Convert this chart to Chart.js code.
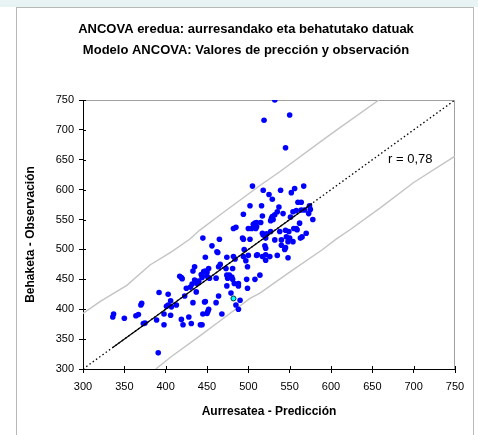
<!DOCTYPE html>
<html>
<head>
<meta charset="utf-8">
<title>ANCOVA eredua</title>
<script src="https://cdn.jsdelivr.net/npm/chart.js@4.4.1/dist/chart.umd.min.js"></script>
<style>
  html, body { margin: 0; padding: 0; background: #fff; }
  canvas { display: block; }
</style>
</head>
<body>
<canvas id="ancovaChart" width="478" height="435"></canvas>
<script>
// Predicted (x) vs observed (y) values
const predX = [532, 519, 550, 545, 505, 518, 525, 529, 539, 552, 556, 567, 560, 564, 502, 516, 537, 535, 532, 528,
  527, 530, 542, 554, 558, 564, 575, 573, 578, 494, 517, 510, 515, 506, 500, 504, 509, 482, 485, 517,
  522, 527, 538, 545, 549, 555, 559, 570, 521, 532, 540, 546, 550, 554, 563, 540, 545, 548, 445, 465,
  494, 502, 456, 462, 495, 520, 521, 474, 482, 500, 510, 517, 526, 535, 544, 548, 574, 568, 551, 562,
  558, 565, 508, 510, 518, 493, 529, 463, 484, 494, 497, 499, 511, 521, 521, 448, 452, 450, 446, 444,
  450, 453, 461, 464, 466, 473, 474, 477, 480, 481, 475, 481, 474, 483, 488, 488, 498, 508, 514, 499,
  479, 490, 485, 488, 448, 461, 464, 452, 451, 445, 468, 444, 391, 337, 336, 350, 364, 367, 370, 371,
  373, 375, 389, 392, 398, 398, 403, 406, 407, 403, 413, 419, 423, 421, 428, 431, 433, 437, 442, 447,
  450, 417, 419, 420, 425, 430, 435, 433, 435, 432, 438, 440, 444, 443, 448, 406, 401];
const obsY = [750, 716, 725, 670, 606, 599, 592, 584, 599, 595, 602, 606, 579, 579, 573, 573, 571, 563, 558, 552,
  548, 550, 560, 563, 565, 566, 567, 560, 550, 559, 556, 545, 545, 542, 535, 535, 535, 535, 537, 527,
  526, 530, 530, 532, 530, 535, 533, 527, 519, 516, 516, 521, 519, 513, 519, 507, 503, 513, 519, 517,
  517, 517, 506, 496, 500, 506, 502, 487, 488, 490, 490, 488, 488, 490, 500, 486, 573, 566, 554, 544,
  535, 521, 544, 538, 524, 519, 555, 495, 484, 488, 481, 471, 491, 491, 482, 487, 468, 462, 463, 457,
  455, 452, 452, 471, 475, 468, 457, 457, 454, 450, 452, 468, 439, 443, 443, 439, 450, 450, 457, 435,
  427, 415, 407, 400, 413, 411, 422, 400, 396, 392, 392, 374, 327, 392, 387, 385, 389, 391, 407, 410,
  376, 377, 382, 428, 392, 374, 425, 390, 404, 407, 407, 383, 422, 374, 387, 376, 411, 429, 374, 412,
  393, 455, 453, 451, 435, 437, 449, 464, 471, 442, 443, 447, 453, 458, 464, 414, 405];

// Highlighted observation
const markX = [482];
const markY = [418];

// y = x reference line, fitted segment over the data range
const diagX = [300, 750];
const fitX = [336, 577];

// Prediction band edges
const upperX = [300, 321, 353, 381, 407, 429, 441, 466, 514, 538, 587, 607, 658];
const upperY = [393, 413, 440, 474, 496, 517, 532, 558, 607, 630, 680, 700, 750];
const lowerX = [388, 407, 441, 470, 502, 514, 550, 589, 607, 623, 660, 700, 750];
const lowerY = [300, 321, 355, 385, 418, 427, 462, 499, 518, 533, 570, 612, 656];

// Axis range and ticks
const axisMin = 300;
const axisMax = 750;
const axisStep = 50;

const titleLines = [
  'ANCOVA eredua: aurresandako eta behatutako datuak',
  'Modelo ANCOVA: Valores de prección y observación'
];
const xTitle = 'Aurresatea - Predicción';
const yTitle = 'Behaketa - Observación';
const rLabel = 'r = 0,78';
const rLabelAt = [669, 651];

const FONT = '"Liberation Sans", Arial, sans-serif';

function toPoints(xs, ys) {
  return xs.map((x, i) => ({ x: x, y: ys[i] }));
}

// Frame, titles, plot border, inner tick halves and the r label
const decorations = {
  id: 'decorations',
  beforeDraw(chart) {
    const { ctx, width, height } = chart;
    ctx.save();
    ctx.fillStyle = '#ffffff';
    ctx.fillRect(0, 0, width, height);
    ctx.fillStyle = '#e8f3f3';
    ctx.fillRect(0, 0, width, 7);
    ctx.strokeStyle = '#b8b8b8';
    ctx.lineWidth = 1;
    ctx.strokeRect(16.5, 7.5, 457, height + 5);

    ctx.fillStyle = '#000';
    ctx.font = 'bold 13px ' + FONT;
    ctx.textAlign = 'center';
    ctx.textBaseline = 'middle';
    ctx.fillText(titleLines[0], 246, 29);
    ctx.fillText(titleLines[1], 246, 50);
    ctx.restore();
  },
  beforeDatasetsDraw(chart) {
    const { ctx, chartArea } = chart;
    ctx.save();
    ctx.strokeStyle = '#a0a0a0';
    ctx.lineWidth = 1;
    ctx.beginPath();
    ctx.moveTo(chartArea.left, chartArea.top + 0.5);
    ctx.lineTo(chartArea.right - 0.5, chartArea.top + 0.5);
    ctx.lineTo(chartArea.right - 0.5, chartArea.bottom);
    ctx.stroke();

    // Excel style ticks cross the axis: draw the inner half
    const xs = chart.scales.x;
    const ys = chart.scales.y;
    ctx.strokeStyle = '#000';
    ctx.beginPath();
    for (let v = axisMin; v <= axisMax; v += axisStep) {
      const px = Math.round(xs.getPixelForValue(v)) + 0.5;
      ctx.moveTo(px, chartArea.bottom);
      ctx.lineTo(px, chartArea.bottom - 3);
      const py = Math.round(ys.getPixelForValue(v)) + 0.5;
      ctx.moveTo(chartArea.left, py);
      ctx.lineTo(chartArea.left + 3, py);
    }
    ctx.stroke();
    ctx.restore();
  },
  afterDraw(chart) {
    const { ctx } = chart;
    ctx.save();
    ctx.fillStyle = '#000';
    ctx.font = '13px ' + FONT;
    ctx.textAlign = 'left';
    ctx.textBaseline = 'middle';
    ctx.fillText(rLabel, chart.scales.x.getPixelForValue(rLabelAt[0]), chart.scales.y.getPixelForValue(rLabelAt[1]));
    ctx.restore();
  }
};

function axisOptions(title, isX) {
  return {
    type: 'linear',
    min: axisMin,
    max: axisMax,
    ticks: {
      stepSize: axisStep,
      color: '#000',
      font: { family: FONT, size: 11 },
      padding: isX ? 7 : 5
    },
    grid: {
      drawOnChartArea: false,
      tickLength: 4,
      color: '#000'
    },
    border: { color: '#000', width: 1 },
    title: {
      display: true,
      text: title,
      color: '#000',
      font: { family: FONT, size: 12, weight: 'bold' },
      padding: isX ? { top: 0, bottom: 16 } : { top: 23, bottom: 0 }
    },
    afterFit: (scale) => {
      if (isX) {
        scale.height = 66;
      } else {
        scale.width = 83;
      }
    }
  };
}

const ctx = document.getElementById('ancovaChart');
new Chart(ctx, {
  type: 'scatter',
  data: {
    datasets: [
      {
        label: 'fit',
        data: toPoints(fitX, fitX),
        showLine: true,
        borderColor: '#000',
        borderWidth: 1.2,
        pointRadius: 0
      },
      {
        label: 'y = x',
        data: toPoints(diagX, diagX),
        showLine: true,
        borderColor: '#000',
        borderWidth: 1.3,
        borderDash: [1.5, 2.5],
        pointRadius: 0
      },
      {
        label: 'mark',
        data: toPoints(markX, markY),
        backgroundColor: '#00ffff',
        borderColor: '#003333',
        borderWidth: 1,
        pointRadius: 2.5
      },
      {
        label: 'obs',
        data: toPoints(predX, obsY),
        backgroundColor: '#0000ff',
        borderColor: '#0000ff',
        borderWidth: 0,
        pointRadius: 2.8
      },
      {
        label: 'upper',
        data: toPoints(upperX, upperY),
        showLine: true,
        borderColor: '#c4c4c4',
        borderWidth: 1.4,
        pointRadius: 0
      },
      {
        label: 'lower',
        data: toPoints(lowerX, lowerY),
        showLine: true,
        borderColor: '#c4c4c4',
        borderWidth: 1.4,
        pointRadius: 0
      }
    ]
  },
  options: {
    responsive: false,
    animation: false,
    devicePixelRatio: 1,
    layout: { padding: { top: 100, right: 23, bottom: 0, left: 0 } },
    plugins: {
      legend: { display: false },
      tooltip: { enabled: false },
      title: { display: false }
    },
    scales: {
      x: axisOptions(xTitle, true),
      y: axisOptions(yTitle, false)
    }
  },
  plugins: [decorations]
});
</script>
</body>
</html>
